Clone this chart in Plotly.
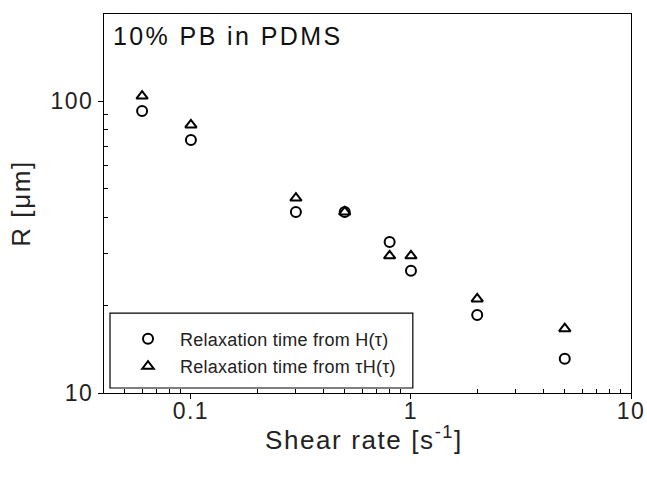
import plotly.graph_objects as go

# Droplet radius vs. shear rate, two ways of extracting the relaxation time
shear_rate = [0.06, 0.1, 0.3, 0.5, 0.8, 1, 2, 5]
r_from_h = [92.4, 73.5, 41.7, 41.7, 32.9, 26.2, 18.5, 13.1]
r_from_tau_h = [104.0, 82.8, 46.5, 41.7, 29.5, 29.5, 21.0, 16.6]

series_names = ["Relaxation time from H(τ)", "Relaxation time from τH(τ)"]
panel_label = "10% PB in PDMS"
x_title = "Shear rate [s<sup>-1</sup>]"
y_title = "R [μm]"

x_tick_vals = [0.1, 1, 10]
x_tick_text = ["0.1", "1", "10"]
y_tick_vals = [10, 100]
y_tick_text = ["10", "100"]

FONT = "Liberation Sans, Arial, Helvetica, sans-serif"


def spaced(text, px):
    return f'<span style="letter-spacing:{px}px">{text}</span>'


x_minor = [m * 10 ** e for e in (-2, -1, 0) for m in range(2, 10) if 0.04 < m * 10 ** e < 10]
y_minor = [m * 10 for m in range(2, 10)]

fig = go.Figure()
fig.add_trace(go.Scatter(
    x=shear_rate, y=r_from_h, mode="markers", name=spaced(series_names[0], 0.25),
    legendgroup="a",
    marker=dict(symbol="circle-open", size=10, color="black", line=dict(width=2, color="black")),
))
fig.add_trace(go.Scatter(
    x=shear_rate, y=r_from_tau_h, mode="markers", name=spaced(series_names[1], 0.25),
    legendgroup="b",
    marker=dict(symbol="triangle-up-open", size=10, color="black", line=dict(width=2, color="black")),
))

axis_common = dict(
    type="log", showgrid=False, zeroline=False, automargin=False,
    showline=True, linecolor="black", linewidth=1.2, mirror=True,
    ticks="outside", ticklen=5, tickwidth=1, tickcolor="black",
    tickfont=dict(family=FONT, size=23, color="#222"),
)

fig.update_xaxes(
    **axis_common,
    range=[-1.395, 1.0],
    tickvals=x_tick_vals, ticktext=[spaced(t, 1.5) for t in x_tick_text],
    ticklabelstandoff=-8,
    minor=dict(tickvals=x_minor, ticks="inside", ticklen=4, tickwidth=1, tickcolor="black", showgrid=False),
)
fig.update_yaxes(
    **axis_common,
    range=[1.0, 2.298],
    tickvals=y_tick_vals, ticktext=[spaced(t, 1.5) for t in y_tick_text],
    minor=dict(tickvals=y_minor, ticks="inside", ticklen=4, tickwidth=1, tickcolor="black", showgrid=False),
    title=dict(text=spaced(y_title, 1.6),
               font=dict(family=FONT, size=26, color="#222"), standoff=12),
)

# x-axis title placed below the tick labels
fig.add_annotation(
    text=spaced(x_title, 1.6), xref="paper", yref="paper",
    x=0.493, y=-0.119, xanchor="center", yanchor="middle", showarrow=False,
    font=dict(family=FONT, size=26, color="#222"),
)

# panel label in the upper-left corner
fig.add_annotation(
    text=spaced(panel_label, 2.4), xref="paper", yref="paper",
    x=0.014, y=0.985, xanchor="left", yanchor="top", showarrow=False,
    font=dict(family=FONT, size=25, color="#111"),
)

# legend frame
fig.add_shape(
    type="rect", xref="paper", yref="paper",
    x0=0.0114, x1=0.586, y0=0.0132, y1=0.211,
    line=dict(color="black", width=1.2), fillcolor="white", layer="below",
)

fig.update_layout(
    width=647, height=477,
    margin=dict(l=104, r=16, t=14, b=84),
    paper_bgcolor="white", plot_bgcolor="white",
    showlegend=True,
    legend=dict(
        x=0.0228, y=0.191, xanchor="left", yanchor="top",
        bgcolor="rgba(0,0,0,0)", borderwidth=0,
        font=dict(family=FONT, size=18, color="#222"),
        tracegroupgap=1, itemwidth=54,
    ),
    font=dict(family=FONT, color="#222"),
)

fig.write_html("out.html")
